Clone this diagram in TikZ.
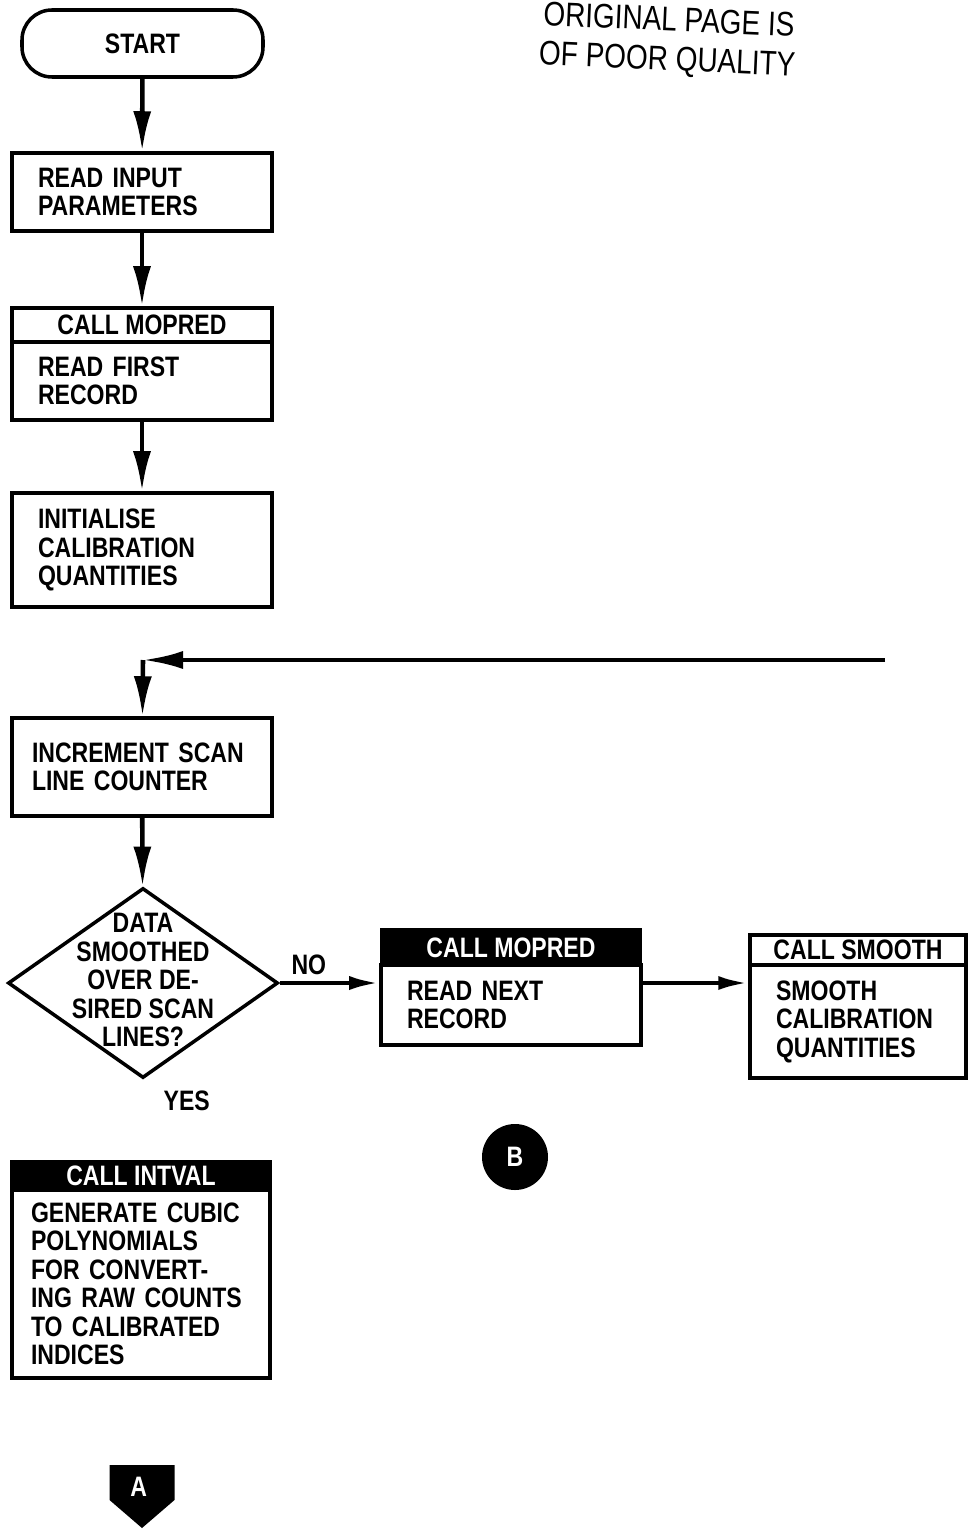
\documentclass[tikz,border=0pt]{standalone}
\usepackage{fontspec}
\newfontfamily\flowfont[FakeStretch=0.82]{Liberation Sans}
\usetikzlibrary{positioning, shapes.geometric, arrows.meta}
\tikzset{
	boxnode/.style={
			rectangle,
			draw=black,
			line width=1pt,
			fill=white,
			minimum width=2.6cm,
			text width=2.08cm,
			inner xsep=0.26cm,
			inner ysep=0pt,
			align=left,
			execute at begin node={\hyphenpenalty=10000},
			font=\flowfont\bfseries\fontsize{8}{8.1}\selectfont
		},
	startnode/.style={
			rectangle,
			rounded corners=0.3cm,
			draw=black,
			line width=1pt,
			minimum width=2.41cm,
			minimum height=0.67cm,
			font=\flowfont\bfseries\fontsize{8}{8.1}\selectfont
		},
	hdrnode/.style={
			rectangle,
			draw=black,
			line width=1pt,
			fill=white,
			minimum width=2.6cm,
			minimum height=0.34cm,
			inner sep=0pt,
			font=\flowfont\bfseries\fontsize{8}{8.1}\selectfont
		},
	hdrdark/.style={
			hdrnode,
			fill=black,
			text=white
		},
	decnode/.style={
			diamond,
			draw=black,
			line width=1pt,
			minimum width=2.7cm,
			minimum height=1.9cm,
			inner sep=0pt
		},
	textnode/.style={
			align=center,
			inner sep=0pt,
			font=\flowfont\bfseries\fontsize{8}{8.1}\selectfont
		},
	connode/.style={
			circle,
			fill=black,
			text=white,
			minimum size=0.66cm,
			inner sep=0pt,
			font=\flowfont\bfseries\fontsize{8}{8.1}\selectfont
		},
	flowarrow/.style={
			line width=1.3pt,
			-{Latex[length=4mm, width=1.8mm]}
		},
	sidearrow/.style={
			line width=1.3pt,
			-{Latex[length=3mm, width=1.4mm]}
		}
}

\begin{document}
\begin{tikzpicture}
\useasboundingbox (0,0) rectangle (9.71,-15.30);

\node[textnode, font=\flowfont\fontsize{9.7}{11.3}\selectfont, rotate=-2.5] (stamp) at (6.68,-0.42) { ORIGINAL PAGE IS\\OF POOR QUALITY };

\node[startnode] (start) at (1.425,-0.435) { START };
\node[boxnode, minimum height=0.78cm] (readin) at (1.42,-1.92) { READ INPUT\\PARAMETERS };
\node[hdrnode] (mopredhdr) at (1.42,-3.25) { CALL MOPRED };
\node[boxnode, minimum height=0.78cm, below=-1pt of mopredhdr] (firstrec) { READ FIRST\\RECORD };
\node[boxnode, minimum height=1.14cm] (init) at (1.42,-5.5) { INITIALISE\\CALIBRATION\\QUANTITIES };

\coordinate (loopin) at (8.85,-6.6);
\coordinate (loopjoin) at (1.43,-6.6);
\node[boxnode, minimum height=0.98cm, inner xsep=0.2cm, text width=2.2cm] (incr) at (1.42,-7.67) { INCREMENT~SCAN\\LINE COUNTER };

\node[decnode] (dec) at (1.43,-9.83) {};
\node[textnode] (dectext) at (1.43,-9.80) { DATA\\SMOOTHED\\OVER DE-\\SIRED SCAN\\LINES? };
\node[textnode] (no) at (3.12,-9.65) { NO };
\node[textnode] (yes) at (1.9,-11.01) { YES };

\node[hdrdark, minimum width=2.58cm, minimum height=0.35cm] (mopred2hdr) at (5.11,-9.475) { CALL MOPRED };
\node[boxnode, minimum width=2.58cm, minimum height=0.8cm, below=-1pt of mopred2hdr] (nextrec) { READ NEXT\\RECORD };

\node[hdrnode, minimum width=2.16cm, minimum height=0.3cm] (smoothhdr) at (8.58,-9.50) { CALL SMOOTH };
\node[boxnode, minimum width=2.16cm, text width=1.64cm, minimum height=1.13cm, below=-1pt of smoothhdr] (smoothbody) { SMOOTH\\CALIBRATION\\QUANTITIES };

\node[connode] (conB) at (5.15,-11.57) { B };

\node[hdrdark, minimum width=2.58cm, minimum height=0.28cm] (intvalhdr) at (1.41,-11.76) { CALL INTVAL };
\node[boxnode, minimum width=2.58cm, inner xsep=0.19cm, text width=2.2cm, minimum height=1.88cm, below=-1pt of intvalhdr] (intval) { GENERATE~CUBIC\\POLYNOMIALS\\FOR~CONVERT-\\ING~RAW~COUNTS\\TO~CALIBRATED\\INDICES };

\fill (1.095,-14.65) -- (1.745,-14.65) -- (1.745,-15.00) -- (1.42,-15.28) -- (1.095,-15.00) -- cycle;
\node[textnode, text=white] (conA) at (1.42,-14.87) { A };

\draw[flowarrow] (start) -- (readin);
\draw[flowarrow] (readin) -- (mopredhdr);
\draw[flowarrow] (firstrec) -- (init);
\draw[flowarrow] (loopin) -- (loopjoin);
\draw[flowarrow] (loopjoin) -- (incr);
\draw[flowarrow] (incr) -- (dec);
\draw[sidearrow] (dec.east) -- (dec.east -| nextrec.west);
\draw[sidearrow] (nextrec.east |- dec.east) -- (dec.east -| smoothbody.west);
\end{tikzpicture}
\end{document}
